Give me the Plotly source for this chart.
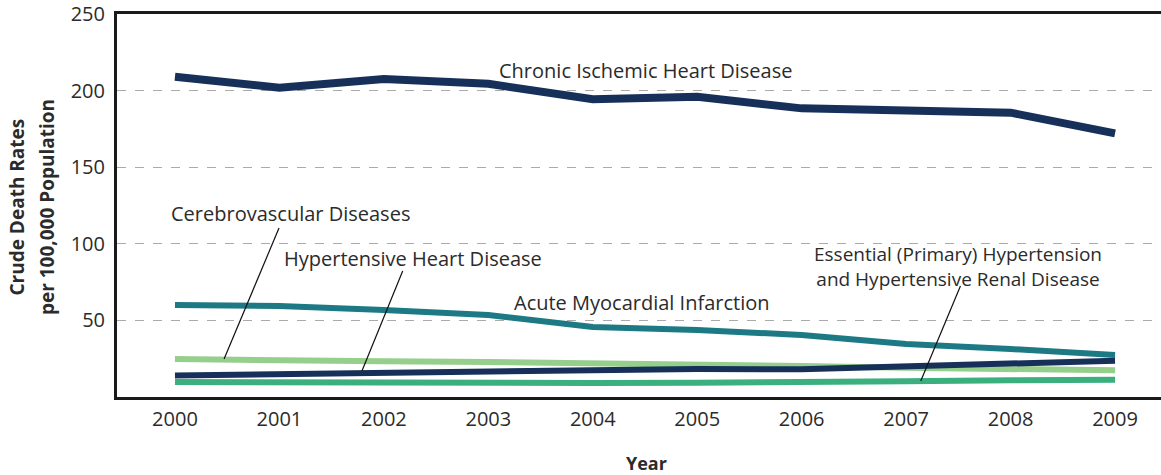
import plotly.graph_objects as go

years = [2000, 2001, 2002, 2003, 2004, 2005, 2006, 2007, 2008, 2009]
chronic_ischemic = [209.1, 201.9, 207.6, 204.4, 194.3, 196.0, 188.4, 186.9, 185.6, 172.1]
acute_mi = [60.1, 59.4, 56.8, 53.5, 45.7, 43.7, 40.5, 34.6, 31.3, 27.4]
cerebrovascular = [24.8, 23.7, 23.3, 22.8, 22.2, 21.5, 20.2, 19.1, 18.1, 17.4]
hypertensive_heart = [14.1, 15.0, 16.1, 16.8, 18.1, 18.3, 18.1, 19.8, 21.1, 23.7]
essential_hypertension = [9.8, 9.6, 8.9, 8.9, 9.1, 9.3, 9.3, 10.2, 10.9, 11.3]
y_ticks = [50, 100, 150, 200, 250]

FONT = "Open Sans"
TXT = "#2b2b2b"

fig = go.Figure()
series = [
    (chronic_ischemic, "#17305a", 8),
    (acute_mi, "#1d7a85", 6),
    (cerebrovascular, "#96cf8c", 6),
    (essential_hypertension, "#3bb07e", 6),
    (hypertensive_heart, "#17305a", 6),
]
for vals, col, w in series:
    fig.add_trace(go.Scatter(x=years, y=vals, mode="lines",
                             line=dict(color=col, width=w), showlegend=False,
                             hoverinfo="skip"))

# leader lines
leaders = [
    ((2000.996, 110.3), (2000.47, 24.8)),
    ((2002.18, 82.2), (2001.79, 17.0)),
    ((2007.52, 72.5), (2007.14, 10.4)),
]
for (x0, y0), (x1, y1) in leaders:
    fig.add_trace(go.Scatter(x=[x0, x1], y=[y0, y1], mode="lines",
                             line=dict(color="#111111", width=1.2),
                             showlegend=False, hoverinfo="skip"))

labels = [
    ("Chronic Ischemic Heart Disease", 2004.5, 213.4, 20),
    ("Acute Myocardial Infarction", 2004.47, 62.0, 20),
    ("Cerebrovascular Diseases", 2001.11, 120.1, 20),
    ("Hypertensive Heart Disease", 2002.28, 90.7, 20),
    ("Essential (Primary) Hypertension<br>and Hypertensive Renal Disease", 2007.5, 85.4, 19),
]
annotations = []
for text, x, y, fs in labels:
    annotations.append(dict(text=text, x=x, y=y, xref="x", yref="y",
                            showarrow=False, font=dict(family=FONT, size=fs, color=TXT),
                            xanchor="center", yanchor="middle", borderpad=0))

for text, px in [("<b>Crude Death Rates</b>", -0.0953), ("<b>per 100,000 Population</b>", -0.067)]:
    annotations.append(dict(text=text, xref="paper", yref="paper", x=px, y=0.496,
                            textangle=-90, showarrow=False, xanchor="center",
                            yanchor="middle", font=dict(family=FONT, size=19, color=TXT)))
annotations.append(dict(text="<b>Year</b>", xref="paper", yref="paper",
                        x=0.507, y=-0.172, showarrow=False,
                        xanchor="center", yanchor="middle", borderpad=0,
                        font=dict(family=FONT, size=18, color=TXT)))

fig.update_layout(
    width=1161, height=475,
    margin=dict(l=117, r=0, t=14, b=78),
    paper_bgcolor="white", plot_bgcolor="white",
    annotations=annotations,
    xaxis=dict(range=[1999.445, 2009.44], tickvals=years, ticktext=[str(y) for y in years],
               showgrid=False, zeroline=False, showline=True, linecolor="#1a1a1a",
               linewidth=3, mirror=True, ticks="", ticklabelstandoff=2,
               tickfont=dict(family=FONT, size=20, color=TXT)),
    yaxis=dict(range=[0, 250], tickvals=y_ticks, showgrid=True, gridcolor="#aaaaaa",
               griddash="dash", gridwidth=1, zeroline=False, showline=True,
               linecolor="#1a1a1a", linewidth=3, ticks="", ticklabelstandoff=5,
               ticklabeloverflow="allow",
               tickfont=dict(family=FONT, size=20, color=TXT)),
)

fig.write_html("out.html", config={"displayModeBar": False},
               post_script="document.body.style.margin='0';document.body.style.overflow='hidden';")
